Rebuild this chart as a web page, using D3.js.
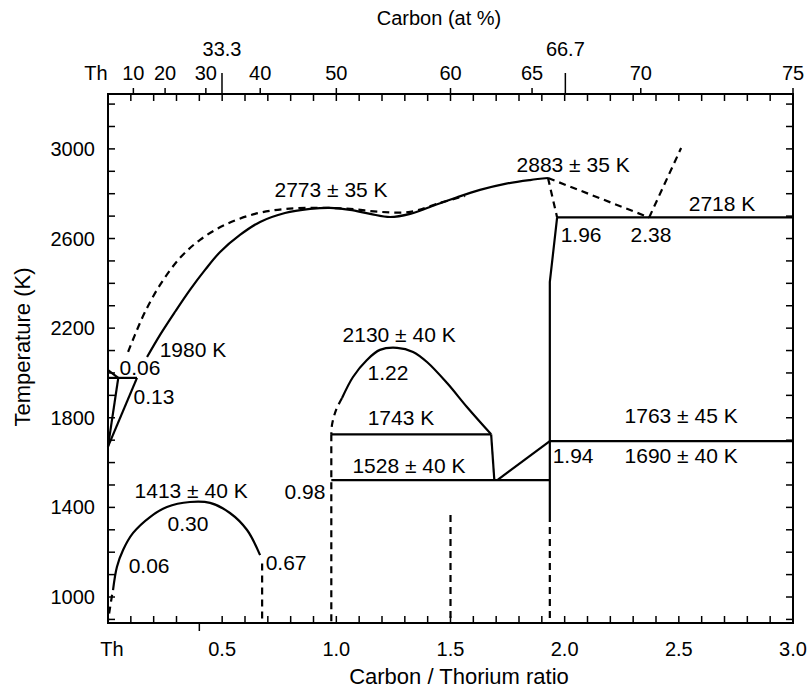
<!DOCTYPE html>
<html><head><meta charset="utf-8">
<script src="https://cdn.jsdelivr.net/npm/d3@7"></script>
<style>body{margin:0;background:#fff}svg{display:block}text{font-family:"Liberation Sans",Arial,Helvetica,sans-serif;fill:#000}</style>
</head><body>
<svg id="c" width="809" height="689"></svg>
<script>
// ---- data (ratio C/Th, temperature K) ----
const liquidusSolid = [[0.171,2071],[0.228,2170],[0.293,2272],[0.359,2371],[0.425,2460],[0.491,2540],[0.578,2616],[0.666,2674],[0.775,2714],[0.885,2732],[0.972,2737],[1.060,2728],[1.148,2710],[1.235,2696],[1.323,2710],[1.410,2741],[1.520,2781],[1.629,2817],[1.739,2844],[1.848,2861],[1.927,2870]];
const liquidusDashed = [[0.088,2094],[0.118,2170],[0.162,2272],[0.228,2393],[0.315,2513],[0.403,2594],[0.512,2661],[0.644,2710],[0.775,2732],[0.929,2737],[1.060,2732],[1.191,2719],[1.323,2719],[1.454,2759],[1.564,2790]];
const peakTo196 = [[1.927,2870],[1.967,2694]];
const peakTo238 = [[1.927,2870],[2.37,2694]];
const rising238 = [[2.37,2694],[2.51,3004]];
const line2718 = [[1.967,2694],[3.0,2694]];
const dicarbideSolid = [[1.967,2694],[1.935,2406],[1.935,1366]];
const dicarbideDashed = [[1.935,1366],[1.935,884]];
const line1690 = [[1.935,1696],[3.0,1696]];
const diag194 = [[1.705,1522],[1.935,1696]];
const line1528 = [[0.978,1522],[1.935,1522]];
const line1743 = [[0.978,1726],[1.678,1726]];
const edge168 = [[1.678,1726],[1.692,1522]];
const dome2130 = [[1.025,1888],[1.073,1982],[1.134,2058],[1.191,2103],[1.266,2112],[1.336,2094],[1.397,2049],[1.485,1955],[1.572,1848],[1.678,1726]];
const monoDashedCurve = [[1.025,1888],[0.999,1835],[0.981,1768],[0.978,1726]];
const monoDashedLine = [[0.978,1726],[0.978,884]];
const dashed15 = [[1.5,1366],[1.5,884]];
const thTop = [[0,2013],[0.045,1978]];
const line1980 = [[0,1978],[0.127,1978]];
const triInner = [[0.045,1978],[0,1671]];
const triOuter = [[0.127,1978],[0,1671]];
const dome1413 = [[0.022,1031],[0.039,1134],[0.066,1210],[0.110,1286],[0.184,1357],[0.258,1402],[0.359,1424],[0.447,1420],[0.534,1375],[0.609,1299],[0.666,1187]];
const dashed067 = [[0.675,1150],[0.675,884]];
const dashed006 = [[0.018,1010],[0,895]];

const solidCurves = [liquidusSolid, dome2130, dome1413];
const solidLines = [line2718, dicarbideSolid, line1690, diag194, line1528, line1743, edge168, thTop, line1980, triInner, triOuter];
const dashedCurves = [liquidusDashed, monoDashedCurve];
const dashedLines = [peakTo196, peakTo238, rising238, dicarbideDashed, monoDashedLine, dashed15, dashed067, dashed006];

const annotations = [
  ["2773 ± 35 K",0.977,2786],["2883 ± 35 K",2.037,2897],["2718 K",2.689,2723],
  ["1.96",2.072,2585],["2.38",2.378,2585],["1980 K",0.372,2071],
  ["0.06",0.140,1991],["0.13",0.201,1862],["2130 ± 40 K",1.275,2138],
  ["1.22",1.226,1969],["1743 K",1.283,1768],["1528 ± 40 K",1.318,1554],
  ["0.98",0.863,1437],["1.94",2.037,1598],["1690 ± 40 K",2.510,1598],
  ["1763 ± 45 K",2.510,1777],["1413 ± 40 K",0.364,1442],["0.30",0.350,1295],
  ["0.06",0.180,1107],["0.67",0.780,1121]
];

const bottomTickValues = [0,0.5,1.0,1.5,2.0,2.5,3.0];
const bottomTickLabels = ["Th","0.5","1.0","1.5","2.0","2.5","3.0"];
const yTickValues = [1000,1400,1800,2200,2600,3000];
const topAtPercent = [0,10,20,30,40,50,60,65,70,75];
const topAtLabels = ["Th","10","20","30","40","50","60","65","70","75"];
const topMajorAt = [33.3,66.7];
const topMajorLabels = ["33.3","66.7"];

// ---- layout ----
const L=108,R=793,T=94,B=623;
const svg=d3.select("#c");
const x=d3.scaleLinear().domain([0,3]).range([L,R]);
const y=d3.scaleLinear().domain([884,3245]).range([B,T]);
const atToRatio = c => c/(100-c);

const line=d3.line().x(d=>x(d[0])).y(d=>y(d[1]));
const curve=d3.line().x(d=>x(d[0])).y(d=>y(d[1])).curve(d3.curveCatmullRom.alpha(0.5));

// frame
svg.append("rect").attr("x",L).attr("y",T).attr("width",R-L).attr("height",B-T)
  .attr("fill","none").attr("stroke","#000").attr("stroke-width",2);

// ticks
const g=svg.append("g").attr("stroke","#000").attr("stroke-width",1.5);
d3.range(1,30).forEach(i=>{
  const v=i/10;
  if(i!==4){ g.append("line").attr("x1",x(v)).attr("x2",x(v)).attr("y1",B).attr("y2",B-7); }
  g.append("line").attr("x1",x(v)).attr("x2",x(v)).attr("y1",T).attr("y2",T+7);
});
g.append("line").attr("x1",x(0.4)).attr("x2",x(0.4)).attr("y1",B).attr("y2",B+8);
d3.range(900,3300,100).forEach(v=>{
  g.append("line").attr("x1",L).attr("x2",L+7).attr("y1",y(v)).attr("y2",y(v));
  g.append("line").attr("x1",R).attr("x2",R-7).attr("y1",y(v)).attr("y2",y(v));
});
topAtPercent.forEach(c=>{
  if(c===0) return;
  g.append("line").attr("x1",x(atToRatio(c))).attr("x2",x(atToRatio(c))).attr("y1",T).attr("y2",T-6);
});
topMajorAt.forEach(c=>{
  g.append("line").attr("x1",x(atToRatio(c))).attr("x2",x(atToRatio(c))).attr("y1",T).attr("y2",T-21);
});

// tick labels
const fs=20;
bottomTickValues.forEach((v,i)=>{
  svg.append("text").attr("x",x(v)+(i===0?4:0)).attr("y",656).attr("text-anchor","middle")
    .attr("font-size",fs).text(bottomTickLabels[i]);
});
yTickValues.forEach(v=>{
  svg.append("text").attr("x",95).attr("y",y(v)+7).attr("text-anchor","end")
    .attr("font-size",fs).text(v);
});
topAtPercent.forEach((c,i)=>{
  svg.append("text").attr("x",x(atToRatio(c))-(i===0?12:0)).attr("y",80).attr("text-anchor","middle")
    .attr("font-size",fs).text(topAtLabels[i]);
});
topMajorAt.forEach((c,i)=>{
  svg.append("text").attr("x",x(atToRatio(c))).attr("y",56).attr("text-anchor","middle")
    .attr("font-size",fs).text(topMajorLabels[i]);
});
// axis titles
svg.append("text").attr("x",459).attr("y",684).attr("text-anchor","middle").attr("font-size",22).text("Carbon / Thorium ratio");
svg.append("text").attr("x",439).attr("y",25).attr("text-anchor","middle").attr("font-size",fs).text("Carbon (at %)");
svg.append("text").attr("transform","translate(30,347) rotate(-90)").attr("text-anchor","middle").attr("font-size",22).text("Temperature (K)");

// phase lines
const sw=2.2;
svg.append("g").selectAll("path").data(solidCurves).join("path")
  .attr("d",d=>curve(d)).attr("fill","none").attr("stroke","#000").attr("stroke-width",sw);
svg.append("g").selectAll("path").data(solidLines).join("path")
  .attr("d",d=>line(d)).attr("fill","none").attr("stroke","#000").attr("stroke-width",sw).attr("stroke-linejoin","round");
svg.append("g").selectAll("path").data(dashedCurves).join("path")
  .attr("d",d=>curve(d)).attr("fill","none").attr("stroke","#000").attr("stroke-width",sw).attr("stroke-dasharray","7,5");
svg.append("g").selectAll("path").data(dashedLines).join("path")
  .attr("d",d=>line(d)).attr("fill","none").attr("stroke","#000").attr("stroke-width",sw).attr("stroke-dasharray","7,5");

// annotations
svg.append("g").selectAll("text").data(annotations).join("text")
  .attr("x",d=>x(d[1])).attr("y",d=>y(d[2])).attr("text-anchor","middle").attr("font-size",21).text(d=>d[0]);
</script>
</body></html>
